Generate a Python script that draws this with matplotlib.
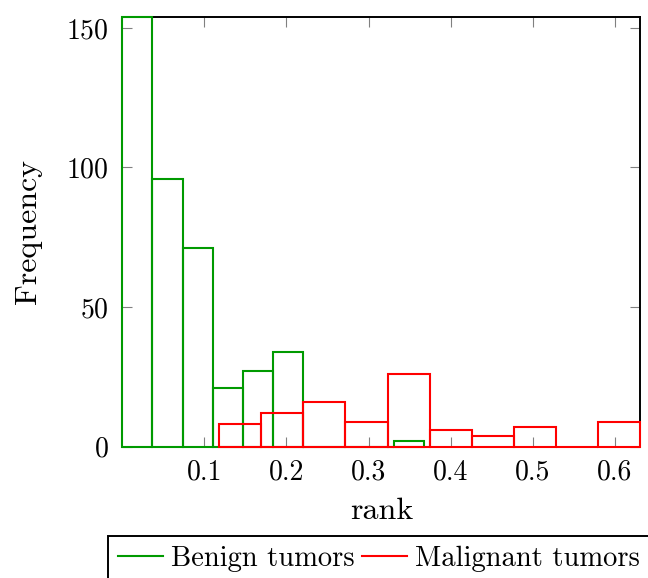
import numpy as np
import matplotlib
matplotlib.use('Agg')
import matplotlib.pyplot as plt

plt.rcParams['font.family'] = 'cmr10'
plt.rcParams['mathtext.fontset'] = 'cm'
plt.rcParams['axes.unicode_minus'] = False
plt.rcParams['axes.formatter.use_mathtext'] = True

# histogram counts, 10 bins per group
benign_counts = [154, 96, 71, 21, 27, 34, 0, 0, 0, 2]
malignant_counts = [8, 12, 16, 9, 26, 6, 4, 7, 0, 9]

# bin ranges (min and max rank of each group)
benign_range = (0.0, 0.3675)
malignant_range = (0.1179, 0.631)

x_ticks = [0.1, 0.2, 0.3, 0.4, 0.5, 0.6]
y_ticks = [0, 50, 100, 150]

benign_color = '#009a00'
malignant_color = '#ff0000'

fig = plt.figure(figsize=(6.48, 5.78), dpi=100)
ax = fig.add_axes([0.1886, 0.2272, 0.7998, 0.7439])


def draw_hist(counts, rng, color, label):
    edges = np.linspace(rng[0], rng[1], len(counts) + 1)
    bars = ax.bar(edges[:-1], counts, width=np.diff(edges), align='edge',
                  fill=False, edgecolor=color, linewidth=1.5, label=label,
                  zorder=6)
    for b in bars:
        b.set_clip_on(False)
    return edges


draw_hist(benign_counts, benign_range, benign_color, 'Benign tumors')
draw_hist(malignant_counts, malignant_range, malignant_color, 'Malignant tumors')

ax.set_xlim(benign_range[0], malignant_range[1])
ax.set_ylim(0, 154)
ax.set_xticks(x_ticks)
ax.set_xticklabels([f'{t:.1f}' for t in x_ticks])
ax.set_yticks(y_ticks)

ax.tick_params(direction='in', top=True, right=True, length=7, width=0.8,
               color='#808080', labelsize=20, labelcolor='black')
ax.tick_params(axis='x', pad=9)
ax.tick_params(axis='y', pad=10)
for sp in ax.spines.values():
    sp.set_linewidth(1.4)
    sp.set_color('black')
    sp.set_zorder(5)

ax.set_xlabel('rank', fontsize=23, labelpad=9)
ax.set_ylabel('Frequency', fontsize=23, labelpad=17)

handles = [plt.Line2D([], [], color=benign_color, linewidth=1.5),
           plt.Line2D([], [], color=malignant_color, linewidth=1.5)]
leg = fig.legend(handles, ['Benign tumors', 'Malignant tumors'],
                 loc='upper left', bbox_to_anchor=(108.3 / 648, 1 - 535.7 / 578),
                 ncol=2, fontsize=20.6, frameon=True, fancybox=False,
                 edgecolor='black', framealpha=1, handlelength=1.57,
                 handletextpad=0.28, columnspacing=0.25, borderpad=0.35,
                 borderaxespad=0)
leg.get_frame().set_linewidth(1.4)

fig.savefig('out.png', dpi=100)
